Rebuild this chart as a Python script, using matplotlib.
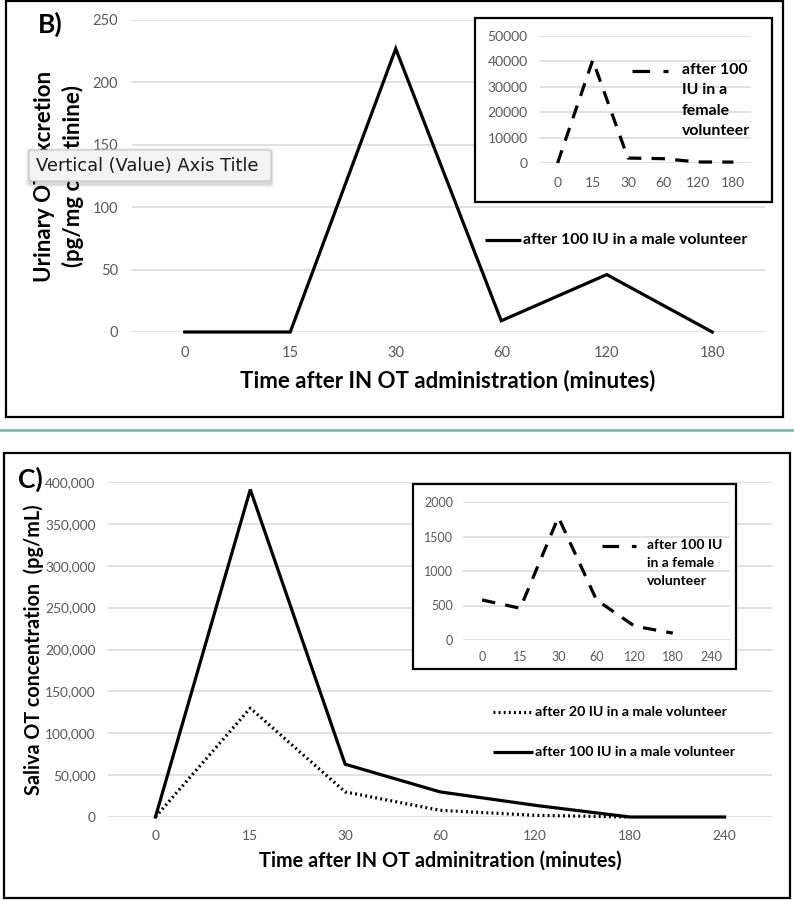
import matplotlib
matplotlib.use("Agg")
import matplotlib.pyplot as plt
from matplotlib.patches import Rectangle, FancyBboxPatch
from matplotlib.lines import Line2D
import numpy as np

W, H = 794, 900

# ---------------- data ----------------
b_times = ["0", "15", "30", "60", "120", "180"]
b_male100 = [0, 0, 227, 9, 46, 0]

b_inset_times = ["0", "15", "30", "60", "120", "180"]
b_female100 = [0, 40500, 1950, 1700, 400, 350]

c_times = ["0", "15", "30", "60", "120", "180", "240"]
c_male100 = [0, 391000, 63000, 30000, 14000, 0, 0]
c_male20 = [0, 130000, 30000, 8000, 2000, 0, np.nan]

c_inset_times = ["0", "15", "30", "60", "120", "180", "240"]
c_female100 = [580, 460, 1780, 580, 200, 100, np.nan]

b_main_label = "after 100 IU in a male volunteer"
b_inset_label = "after 100\nIU in a\nfemale\nvolunteer"
c_male20_label = "after 20 IU in a male volunteer"
c_male100_label = "after 100 IU in a male volunteer"
c_inset_label = "after 100 IU\nin a female\nvolunteer"

FONT = "Lato"
TICKC = "#595959"
GRIDC = "#d9d9d9"

fig = plt.figure(figsize=(W / 100, H / 100), dpi=100)
fig.patch.set_facecolor("white")


def fx(x):
    return x / W


def fy(y):
    return 1 - y / H


def ax_px(x0, y0, x1, y1, z=1):
    ax = fig.add_axes([x0 / W, 1 - y1 / H, (x1 - x0) / W, (y1 - y0) / H])
    ax.set_zorder(z)
    return ax


def style(ax, cats, ymax, step, fmt, fs, ypad, xpad):
    n = len(cats)
    ax.set_xlim(-0.5, n - 0.5)
    ax.set_ylim(0, ymax)
    ax.set_xticks(range(n))
    ax.set_xticklabels(cats)
    yt = np.arange(0, ymax + 1, step)
    ax.set_yticks(yt)
    ax.set_yticklabels([fmt(v) for v in yt])
    for s in ax.spines.values():
        s.set_visible(False)
    ax.grid(axis="y", color=GRIDC, lw=1.1)
    ax.set_axisbelow(True)
    ax.tick_params(length=0, colors=TICKC, labelsize=fs)
    ax.tick_params(axis="y", pad=ypad)
    ax.tick_params(axis="x", pad=xpad)
    for t in ax.get_xticklabels() + ax.get_yticklabels():
        t.set_family(FONT)
    ax.patch.set_alpha(0)


def frame(x0, y0, x1, y1, lw=1.6, z=0.5, fill=False):
    r = Rectangle((fx(x0), fy(y1)), fx(x1) - fx(x0), fy(y0) - fy(y1),
                  transform=fig.transFigure, fill=fill, fc="white",
                  ec="black", lw=lw, zorder=z)
    fig.patches.append(r)


def keyline(x0, x1, y, **kw):
    fig.lines.append(Line2D([fx(x0), fx(x1)], [fy(y), fy(y)],
                            transform=fig.transFigure, color="black",
                            solid_capstyle="butt", zorder=6, **kw))


LW = 2.3
DASH = (0, (4.2, 3.2))
DOT = (0, (0.6, 1.0))

# ---------------- panel B ----------------
frame(6, 1, 783, 417)

axB = ax_px(132, 20, 765, 332)
style(axB, b_times, 250, 50, lambda v: f"{int(v)}", 10.5, 10, 10)
axB.plot(range(len(b_male100)), b_male100, color="black", lw=LW,
         solid_joinstyle="miter", clip_on=False)

fig.text(fx(50), fy(24), "B)", family=FONT, weight="bold", fontsize=19,
         ha="center", va="center")
fig.text(fx(448), fy(381), "Time after IN OT administration (minutes)",
         family=FONT, weight="bold", fontsize=16, ha="center", va="center")
fig.text(fx(45), fy(176), "Urinary OT excretion", family=FONT, weight="bold",
         fontsize=16, ha="center", va="center", rotation=90)
fig.text(fx(73), fy(176), "(pg/mg creatinine)", family=FONT, weight="bold",
         fontsize=16, ha="center", va="center", rotation=90)

keyline(485, 521, 240, lw=LW)
fig.text(fx(523), fy(240), b_main_label, family=FONT, weight="bold",
         fontsize=11.4, ha="left", va="center")

# inset B
frame(475, 18, 772, 202, lw=1.6, z=2, fill=True)
axBi = ax_px(540, 36, 751, 163, z=3)
style(axBi, b_inset_times, 50000, 10000, lambda v: f"{int(v)}", 10, 9, 10)
axBi.plot(range(len(b_female100)), b_female100, color="black", lw=LW,
          linestyle=DASH, clip_on=False)
keyline(632, 668, 71, lw=LW, linestyle=(0, (5.5, 4.2)))
fig.text(fx(682), fy(63), b_inset_label, family=FONT, weight="bold",
         fontsize=11.4, ha="left", va="top", linespacing=1.58, zorder=7)

# tooltip
for i, a in enumerate([0.05, 0.05, 0.06]):
    d = 3 - i
    sh = FancyBboxPatch((fx(29 - d), fy(183 + d + 1)),
                        fx(271 + d) - fx(29 - d), fy(150 - d + 1) - fy(183 + d + 1),
                        boxstyle="round,pad=0,rounding_size=0.004",
                        transform=fig.transFigure, fc="black", ec="none",
                        alpha=a, zorder=9)
    fig.patches.append(sh)
tip = FancyBboxPatch((fx(29), fy(181)), fx(271) - fx(29), fy(150) - fy(181),
                     boxstyle="round,pad=0,rounding_size=0.004",
                     transform=fig.transFigure, fc="#f3f3f3", ec="#c8c8c8",
                     lw=0.8, zorder=10)
fig.patches.append(tip)
fig.text(fx(36), fy(166), "Vertical (Value) Axis Title", family="DejaVu Sans",
         fontsize=12.9, ha="left", va="center", color="#1a1a1a", zorder=11)

# separator
fig.lines.append(Line2D([0, 1], [fy(430), fy(430)], transform=fig.transFigure,
                        color="#6ab6b3", lw=1.8, zorder=1))

# ---------------- panel C ----------------
frame(4, 453, 790, 898)

axC = ax_px(108, 482, 772, 817)
style(axC, c_times, 400000, 50000, lambda v: f"{int(v):,}", 9.9, 9, 9)
x = range(len(c_times))
axC.plot(x, c_male20, color="black", lw=LW, linestyle=DOT, clip_on=False)
axC.plot(x, c_male100, color="black", lw=LW, solid_joinstyle="miter",
         clip_on=False)

fig.text(fx(30), fy(479), "C)", family=FONT, weight="bold", fontsize=19,
         ha="center", va="center")
fig.text(fx(440), fy(861), "Time after IN OT adminitration (minutes)",
         family=FONT, weight="bold", fontsize=14.3, ha="center", va="center")
fig.text(fx(34), fy(650), "Saliva OT concentration  (pg/mL)", family=FONT,
         weight="bold", fontsize=14.2, ha="center", va="center", rotation=90)

keyline(493, 533, 712, lw=LW, linestyle=DOT)
fig.text(fx(535), fy(712), c_male20_label, family=FONT, weight="bold",
         fontsize=10.2, ha="left", va="center")
keyline(493, 533, 752, lw=LW)
fig.text(fx(535), fy(752), c_male100_label, family=FONT, weight="bold",
         fontsize=10.2, ha="left", va="center")

# inset C
frame(413, 484, 736, 669, lw=1.6, z=2, fill=True)
axCi = ax_px(463, 502, 730, 640, z=3)
style(axCi, c_inset_times, 2000, 500, lambda v: f"{int(v)}", 9, 7, 8)
axCi.plot(range(len(c_inset_times)), c_female100, color="black", lw=LW,
          linestyle=DASH, clip_on=False)
keyline(602, 636, 546, lw=LW, linestyle=(0, (5.2, 4.0)))
fig.text(fx(647), fy(539), c_inset_label, family=FONT, weight="bold",
         fontsize=10, ha="left", va="top", linespacing=1.6, zorder=7)

fig.savefig("out.png", dpi=100, facecolor="white")
